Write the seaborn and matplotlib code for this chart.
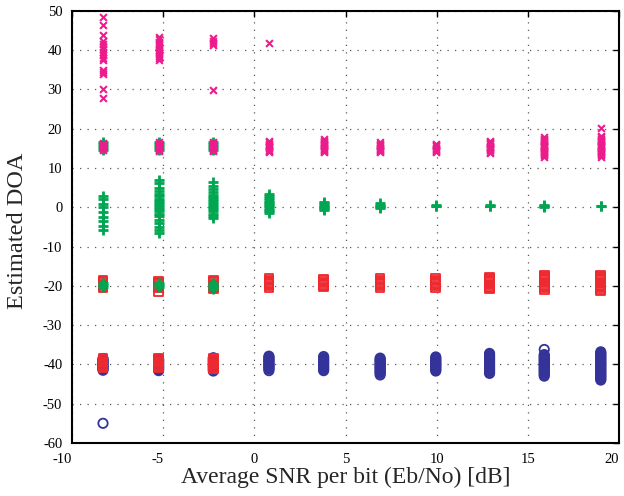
import matplotlib
matplotlib.use('Agg')
import matplotlib.pyplot as plt
import pandas as pd
import seaborn as sns

# SNR positions of the trials (dB)
snr = [-8.3, -5.25, -2.25, 0.8, 3.8, 6.9, 9.95, 12.9, 15.9, 19.0]

# Estimated DOA for source at -40 deg (blue circles)
blue_doa = [
    [-38.5, -38.8, -39.1, -39.4, -39.7, -40.0, -40.3, -40.6, -40.9, -41.2, -41.5, -55.0],
    [-38.6, -38.9, -39.2, -39.5, -39.8, -40.1, -40.4, -40.7, -41.0, -41.3, -41.6],
    [-38.3, -38.6, -38.9, -39.2, -39.5, -39.8, -40.1, -40.4, -40.7, -41.0, -41.3, -41.7],
    [-37.9, -38.2, -38.5, -38.8, -39.1, -39.4, -39.7, -40.0, -40.3, -40.6, -40.9, -41.2, -41.6],
    [-38.0, -38.3, -38.6, -38.9, -39.2, -39.5, -39.8, -40.1, -40.4, -40.7, -41.0, -41.3, -41.6],
    [-38.4, -38.7, -39.0, -39.3, -39.6, -39.9, -40.2, -40.5, -40.8, -41.1, -41.4, -41.7, -42.0, -42.3, -42.7],
    [-38.1, -38.4, -38.7, -39.0, -39.3, -39.6, -39.9, -40.2, -40.5, -40.8, -41.1, -41.4, -41.7],
    [-37.2, -37.5, -37.8, -38.1, -38.4, -38.7, -39.0, -39.3, -39.6, -39.9, -40.2, -40.5, -40.8,
     -41.1, -41.4, -41.7, -42.0, -42.3],
    [-36.2, -37.5, -37.8, -38.1, -38.4, -38.7, -39.0, -39.3, -39.6, -39.9, -40.2, -40.5, -40.8,
     -41.1, -41.4, -41.7, -42.0, -42.3, -42.6, -43.0],
    [-36.8, -37.1, -37.4, -37.7, -38.0, -38.3, -38.6, -38.9, -39.2, -39.5, -39.8, -40.1, -40.4,
     -40.7, -41.0, -41.3, -41.6, -41.9, -42.2, -42.5, -42.8, -43.1, -43.4, -43.7, -44.0],
]

# Estimated DOA for source at -20 deg (red squares)
red_doa = [
    [-18.6, -18.9, -19.2, -19.5, -19.8, -20.1, -20.4,
     -38.5, -38.8, -39.1, -39.4, -39.7, -40.0, -40.3, -40.6, -40.9],
    [-18.8, -19.1, -19.4, -19.7, -20.0, -20.3, -20.6, -21.5,
     -38.5, -38.8, -39.1, -39.4, -39.7, -40.0, -40.3, -40.6, -40.9],
    [-18.6, -18.9, -19.2, -19.5, -19.8, -20.1, -20.4, -20.8,
     -38.4, -38.7, -39.0, -39.3, -39.6, -39.9, -40.2, -40.5, -40.8, -41.2],
    [-18.2, -18.5, -18.8, -19.1, -19.4, -19.7, -20.0, -20.4],
    [-18.4, -18.7, -19.0, -19.3, -19.6, -19.9, -20.3],
    [-18.2, -18.5, -18.8, -19.1, -19.4, -19.7, -20.0, -20.4],
    [-18.2, -18.5, -18.8, -19.1, -19.4, -19.7, -20.0, -20.4],
    [-17.7, -18.0, -18.3, -18.6, -18.9, -19.2, -19.5, -19.8, -20.1, -20.4, -20.8],
    [-17.2, -17.5, -17.8, -18.1, -18.4, -18.7, -19.0, -19.3, -19.6, -19.9, -20.2, -20.6, -21.0],
    [-17.2, -17.5, -17.8, -18.1, -18.4, -18.7, -19.0, -19.3, -19.6, -19.9, -20.2, -20.6, -20.9, -21.3],
]

# Estimated DOA for source at 0 deg (green plus)
green_doa = [
    [3.0, 2.0, 0.9, 0.0, -1.2, -2.5, -3.6, -4.7, -5.9,
     -19.4, -19.9, -20.4, 14.5, 15.0, 15.5, 16.0, 16.5],
    [7.0, 6.2, 5.0, 4.2, 3.5, 2.8, 2.2, 1.6, 1.0, 0.5, 0.0, -0.5, -1.0, -1.6, -2.3, -3.2,
     -4.0, -5.0, -5.8, -6.5, -19.4, -19.9, -20.4, 14.5, 15.0, 15.5, 16.0, 16.5],
    [6.4, 5.5, 4.6, 3.8, 3.2, 2.6, 2.0, 1.5, 1.0, 0.5, 0.0, -0.5, -1.0, -1.6, -2.2, -2.8,
     -19.2, -19.7, -20.2, -20.7, 14.5, 15.0, 15.5, 16.0, 16.5],
    [3.3, 2.8, 2.3, 1.8, 1.4, 1.0, 0.6, 0.2, -0.2, -0.6, -1.0, -1.5],
    [1.4, 1.0, 0.7, 0.4, 0.1, -0.2, -0.5, -0.7],
    [1.0, 0.7, 0.4, 0.1, -0.2],
    [0.6, 0.4, 0.2],
    [0.6, 0.4, 0.2],
    [0.6, 0.4, 0.2, 0.0],
    [0.3, 0.2],
]

# Estimated DOA for source at 15 deg (magenta x)
magenta_doa = [
    [48.5, 46.3, 43.9, 42.3, 41.6, 40.9, 40.2, 39.5, 38.8, 38.1, 37.4, 35.0, 34.5, 34.0, 30.2, 27.7,
     14.5, 14.8, 15.1, 15.4, 15.7, 16.0, 16.3],
    [43.4, 42.8, 42.2, 41.6, 41.0, 40.4, 39.8, 39.2, 38.6, 38.0, 37.4,
     14.3, 14.6, 14.9, 15.2, 15.5, 15.8, 16.1, 16.5],
    [43.0, 42.4, 41.8, 41.3, 29.8,
     14.3, 14.6, 14.9, 15.2, 15.5, 15.8, 16.1, 16.4, 16.6],
    [41.8, 14.1, 14.4, 14.7, 15.0, 15.3, 15.6, 15.9, 16.2, 16.5, 16.8],
    [14.0, 14.3, 14.6, 14.9, 15.2, 15.5, 15.8, 16.1, 16.4, 16.7, 17.0, 17.3],
    [14.0, 14.3, 14.6, 14.9, 15.2, 15.5, 15.8, 16.1, 16.5],
    [14.0, 14.3, 14.6, 14.9, 15.2, 15.5, 15.8, 16.1],
    [13.9, 14.2, 14.5, 14.8, 15.1, 15.4, 15.7, 16.0, 16.3, 16.6, 16.9],
    [12.9, 13.2, 13.5, 13.8, 14.1, 14.4, 14.7, 15.0, 15.3, 15.6, 15.9, 16.2, 16.5, 16.8, 17.1,
     17.4, 17.8],
    [12.9, 13.2, 13.5, 13.8, 14.1, 14.4, 14.7, 15.0, 15.3, 15.6, 15.9, 16.2, 16.5, 16.8, 17.1,
     17.4, 17.8, 18.2, 20.2],
]

x_ticks = [-10, -5, 0, 5, 10, 15, 20]
y_ticks = [-60, -50, -40, -30, -20, -10, 0, 10, 20, 30, 40, 50]


def to_frame(doa):
    rows = []
    for s, vals in zip(snr, doa):
        for v in vals:
            rows.append((s, v))
    return pd.DataFrame(rows, columns=['snr', 'doa'])


sns.set_style('white')
plt.rcParams['font.family'] = ['Liberation Serif', 'DejaVu Serif']
plt.rcParams['axes.unicode_minus'] = False

fig, ax = plt.subplots(figsize=(6.24, 4.96), dpi=100)
fig.subplots_adjust(left=0.1154, right=0.992, top=0.978, bottom=0.107)

# hollow circles / squares first, then plus and x on top
sns.scatterplot(data=to_frame(blue_doa), x='snr', y='doa', ax=ax, marker='o', s=45,
                color='#333399', facecolor='none', edgecolor='#333399', linewidth=1.3)
sns.scatterplot(data=to_frame(red_doa), x='snr', y='doa', ax=ax, marker='s', s=38,
                color='#ee2a2f', facecolor='none', edgecolor='#ee2a2f', linewidth=1.3)
sns.scatterplot(data=to_frame(green_doa), x='snr', y='doa', ax=ax, marker='+', s=55,
                color='#00a651', linewidth=2.0)
sns.scatterplot(data=to_frame(magenta_doa), x='snr', y='doa', ax=ax, marker='x', s=24,
                color='#ec1c8c', linewidth=1.5)

ax.set_xlim(-10, 20)
ax.set_ylim(-60, 50)
ax.set_xticks(x_ticks)
ax.set_xticklabels([str(t) for t in x_ticks])
ax.set_yticks(y_ticks)
ax.grid(True, linestyle=(0, (1, 5)), color='0.35', linewidth=0.9)
ax.tick_params(direction='in', top=True, right=True, length=4, width=1, labelsize=10.5,
               colors='black')
ax.tick_params(axis='x', pad=7)
ax.tick_params(axis='y', pad=7)
# negative labels and the last one sit to the left of their tick, as in the original
for lab, t in zip(ax.get_xticklabels(), x_ticks):
    if t < 0 or t == 20:
        lab.set_horizontalalignment('right')
for sp in ax.spines.values():
    sp.set_color('black')
    sp.set_linewidth(1.5)

ax.set_xlabel('Average SNR per bit (Eb/No) [dB]', fontsize=17, labelpad=1)
ax.set_ylabel('Estimated DOA', fontsize=17.5, va='center')
ax.yaxis.set_label_coords(-0.100, 0.49)

fig.savefig('out.png', dpi=100)
